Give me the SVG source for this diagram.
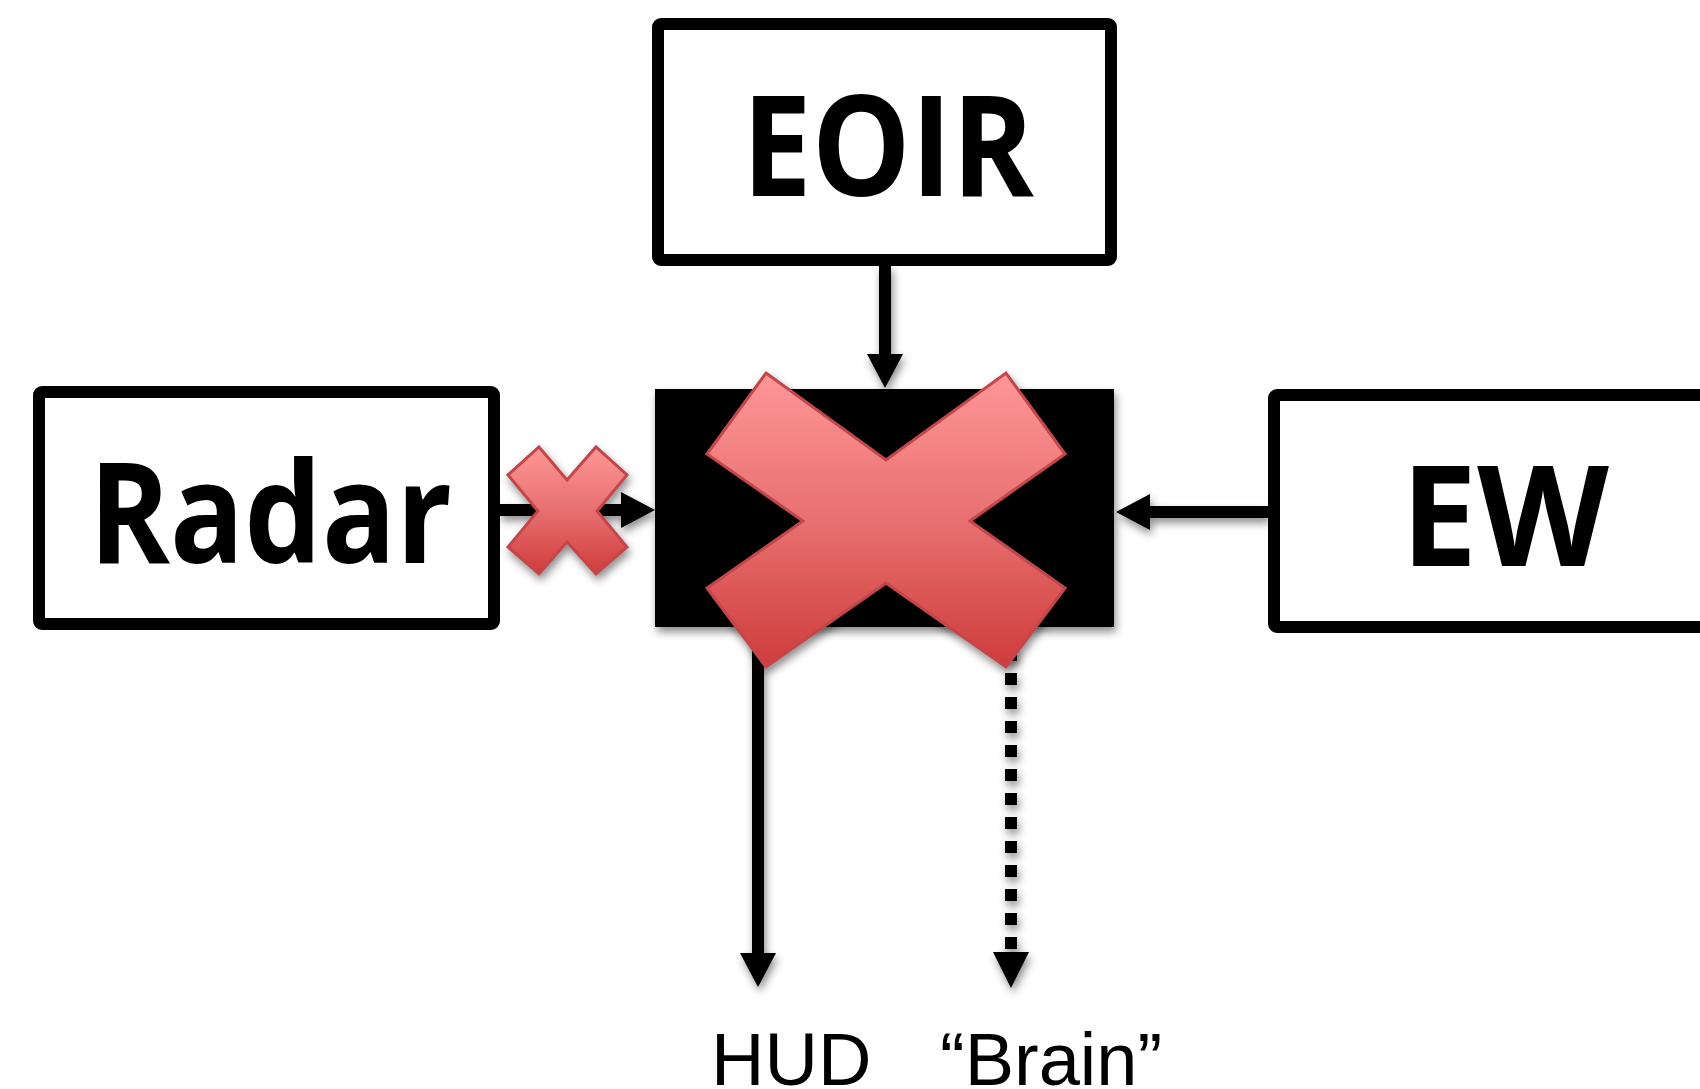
<svg xmlns="http://www.w3.org/2000/svg" width="1700" height="1089" viewBox="0 0 1700 1089">
  <style>
    .box { fill: #ffffff; stroke: #000000; stroke-width: 12; }
    .big { font-family: "Open Sans", "Liberation Sans", sans-serif; font-weight: bold; font-size: 140px; fill: #000000; }
    .lbl { font-family: "Liberation Sans", Arial, sans-serif; font-size: 74px; fill: #000000; }
    .conn { stroke: #000000; stroke-width: 12; fill: none; }
    .xmark { fill: url(#xgrad); stroke: #c2474b; stroke-width: 3; stroke-linejoin: miter; }
  </style>
  <defs>
    <linearGradient id="xgrad" x1="0" y1="0" x2="0" y2="1">
      <stop offset="0" stop-color="#ff9696"/>
      <stop offset="0.5" stop-color="#e87070"/>
      <stop offset="1" stop-color="#cf3c3c"/>
    </linearGradient>
    <filter id="shadow" x="-20%" y="-20%" width="140%" height="150%">
      <feDropShadow dx="2" dy="5" stdDeviation="4" flood-color="#000000" flood-opacity="0.45"/>
    </filter>
    <marker id="arrow" viewBox="0 0 34 36" refX="1" refY="18" markerWidth="34" markerHeight="36" markerUnits="userSpaceOnUse" orient="auto">
      <path d="M0,0 L34,18 L0,36 Z" fill="#000000"/>
    </marker>
  </defs>

  <g id="connectors" filter="url(#shadow)">
    <line class="conn" x1="885" y1="266" x2="885" y2="355" marker-end="url(#arrow)"/>
    <line class="conn" x1="500" y1="510" x2="622" y2="510" marker-end="url(#arrow)"/>
    <line class="conn" x1="1268" y1="512" x2="1149" y2="512" marker-end="url(#arrow)"/>
    <line class="conn" x1="758" y1="627" x2="758" y2="954" marker-end="url(#arrow)"/>
    <line class="conn" x1="1011" y1="625" x2="1011" y2="951" stroke-dasharray="12 12"/>
    <path d="M993,952 L1029,952 L1011,988 Z" fill="#000000"/>
  </g>

  <g id="eoir">
    <rect class="box" x="658" y="24" width="453" height="236" rx="3"/>
    <text class="big" x="742" y="196" textLength="292" lengthAdjust="spacingAndGlyphs">EOIR</text>
  </g>

  <g id="radar">
    <rect class="box" x="39" y="392" width="455" height="232" rx="3"/>
    <text class="big" x="89" y="563" textLength="363" lengthAdjust="spacingAndGlyphs">Radar</text>
  </g>

  <g id="ew">
    <rect class="box" x="1274" y="395" width="500" height="232" rx="3"/>
    <text class="big" x="1401" y="566" textLength="208" lengthAdjust="spacingAndGlyphs">EW</text>
  </g>

  <g id="fusion">
    <rect x="655" y="389" width="459" height="238" fill="#000000" filter="url(#shadow)"/>
  </g>

  <g id="small-x" filter="url(#shadow)">
    <polygon class="xmark" points="539,447 567,480 596,447 627,475 597,511 627,547 596,574 567,542 539,574 508,547 538,511 508,475"/>
  </g>

  <g id="big-x" filter="url(#shadow)">
    <polygon class="xmark" points="766,373 886,460 1006,373 1065,454 970,521 1065,588 1006,667 886,583 766,667 707,588 803,521 707,454"/>
  </g>

  <g id="hud">
    <text class="lbl" x="711" y="1085">HUD</text>
  </g>

  <g id="brain">
    <text class="lbl" x="940" y="1085">“Brain”</text>
  </g>
</svg>
